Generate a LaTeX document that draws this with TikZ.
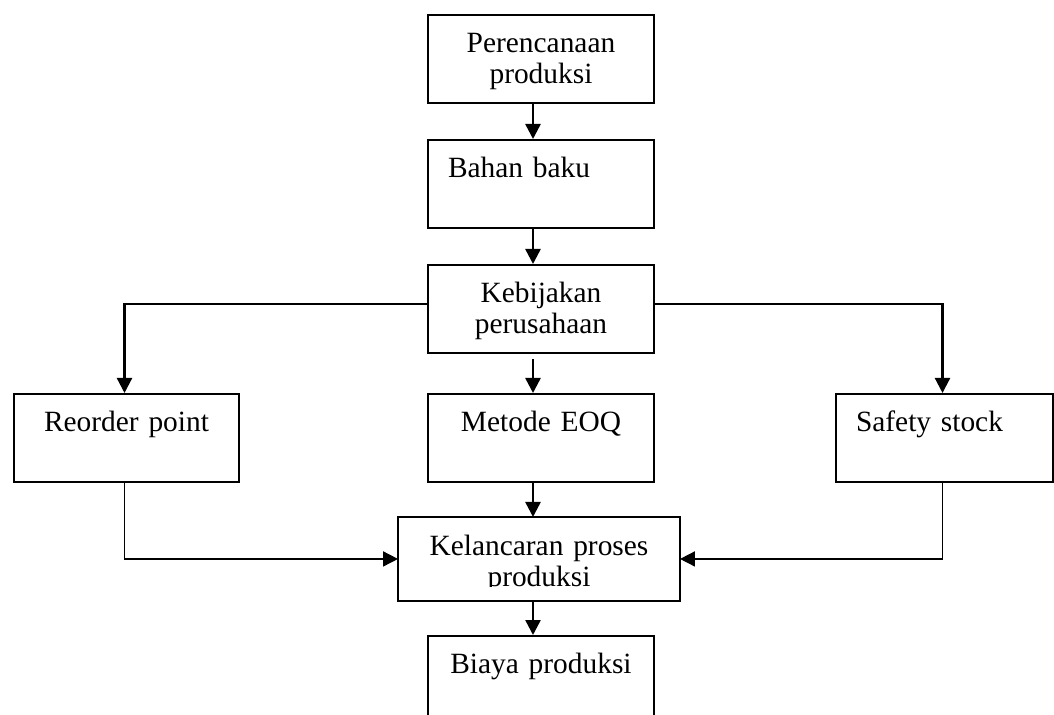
\documentclass[tikz,border=0pt]{standalone}
\usepackage{fontspec}
\setmainfont{Liberation Serif}
\usetikzlibrary{arrows.meta}
\begin{document}
\begin{tikzpicture}[
      x=0.5pt, y=-0.5pt,
      font=\fontsize{14.7pt}{15.5pt}\selectfont,
      B/.style={draw, line width=0.95pt, anchor=north, align=center,
        inner ysep=0pt, inner xsep=4pt, text width=105pt,
        text height=19pt, text depth=25pt},
      Lft/.style={align=left, inner xsep=10pt, text width=93pt},
      A/.style={-{Triangle[length=7.5pt,width=7.5pt]}, line width=1.25pt},
      Ln/.style={line width=0.8pt}]
      \clip (0,0) rectangle (1054,715);
      \coordinate (spine) at (533,0);
      \node[B] (plan) at (541,14) {Perencanaan\\produksi};
      \node[B, Lft] (bahan) at (541,139) {Bahan baku\\~};
      \node[B] (kebij) at (541,264) {Kebijakan\\perusahaan};
      \node[B] (reorder) at (126.5,393) [text width=104.5pt] {Reorder point\\~};
      \node[B] (eoq) at (541,393) {Metode EOQ\\~};
      \node[B, Lft] (safety) at (944.5,393) [text width=88.5pt] {Safety stock\\~};
      \begin{scope}
        \clip (380,500) rectangle (700,586);
        \node[B, draw=none, text width=132pt, text depth=22pt] (lancar) at (539,517)
          {Kelancaran proses\\produksi};
      \end{scope}
      \draw[line width=0.95pt] (lancar.north west) rectangle (lancar.south east);
      \node[B] (biaya) at (541,635) {Biaya produksi\\~};
      % connectors
      \draw[A] (plan.south -| spine) -- (bahan.north -| spine);
      \draw[A] (bahan.south -| spine) -- (kebij.north -| spine);
      \draw[A, shorten <=2.5pt] (kebij.south -| spine) -- (eoq.north -| spine);
      \draw[A, line width=1.1pt] ([yshift=2.5pt]kebij.west) -| ([xshift=-1pt]reorder.north);
      \draw[A, line width=1.1pt] ([yshift=2.5pt]kebij.east) -| ([xshift=-1pt]safety.north);
      \draw[A] (eoq.south -| spine) -- (lancar.north -| spine);
      \draw[A] (lancar.south -| spine) -- (biaya.north -| spine);
      \draw[A, Ln] ([xshift=-1pt]reorder.south) |- (lancar.west);
      \draw[A, Ln] ([xshift=-1pt]safety.south) |- (lancar.east);
    \end{tikzpicture}
\end{document}
